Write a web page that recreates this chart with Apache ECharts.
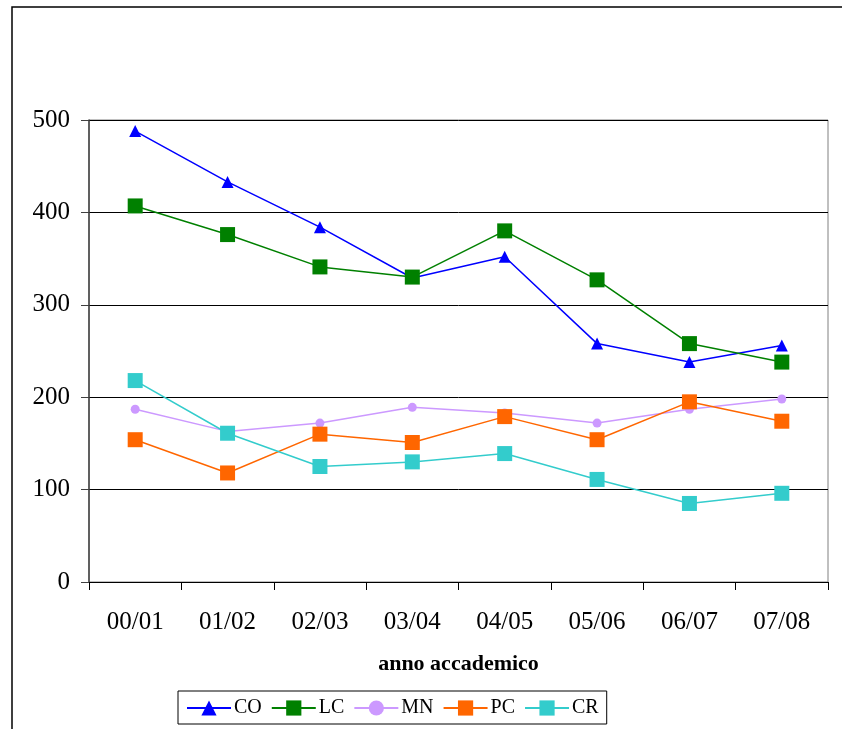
<!DOCTYPE html>
<html>
<head>
<meta charset="utf-8">
<script src="https://cdn.jsdelivr.net/npm/echarts@6/dist/echarts.min.js"></script>
<style>
  html, body { margin: 0; padding: 0; background: #fff; }
  #main { width: 842px; height: 729px; }
</style>
</head>
<body>
<div id="main"></div>
<script>
// anni accademici
const categories = ['00/01', '01/02', '02/03', '03/04', '04/05', '05/06', '06/07', '07/08'];
const yTicks = [0, 100, 200, 300, 400, 500];

// values
const CO = [488, 433, 384, 329, 352, 258, 238, 256];
const LC = [407, 376, 341, 330, 380, 327, 258, 238];
const MN = [187, 163, 172, 189, 183, 172, 187, 198];
const PC = [154, 118, 160, 151, 179, 154, 195, 174];
const CR = [218, 161, 125, 130, 139, 111, 85, 96];

const font = '"Liberation Serif", "Times New Roman", serif';

let myChart = echarts.init(document.getElementById('main'));

function serie(name, data, color, symbol, size) {
    return {
        name: name,
        type: 'line',
        data: data,
        symbol: symbol,
        symbolSize: size,
        lineStyle: { color: color, width: 1.5 },
        itemStyle: { color: color },
        animation: false
    };
}

myChart.setOption({
    backgroundColor: '#fff',
    animation: false,
    textStyle: { fontFamily: font, color: '#000' },
    graphic: [{
        // cornice esterna
        type: 'rect',
        shape: { x: 12, y: 7, width: 840, height: 740 },
        style: { fill: 'none', stroke: '#000', lineWidth: 1.5 },
        silent: true
    }],
    grid: {
        left: 89, top: 120, right: 14, bottom: 147,
        show: true, borderColor: '#808080', borderWidth: 1
    },
    legend: {
        data: ['CO', 'LC', 'MN', 'PC', 'CR'],
        left: 178, top: 691,
        width: 429,
        padding: [7, 8, 6, 8],
        borderColor: '#000',
        borderWidth: 1,
        itemWidth: 44,
        itemHeight: 19,
        itemGap: 9,
        textStyle: { fontFamily: font, fontSize: 20, color: '#000', padding: [0, 0, 0, -2] }
    },
    xAxis: {
        type: 'category',
        data: categories,
        boundaryGap: true,
        name: 'anno accademico',
        nameLocation: 'middle',
        nameGap: 71,
        nameTextStyle: { fontFamily: font, fontSize: 22, fontWeight: 'bold', color: '#000' },
        axisLine: { lineStyle: { color: '#000', width: 1 } },
        axisTick: { show: true, length: 8, interval: 0, lineStyle: { color: '#000' } },
        axisLabel: { fontFamily: font, fontSize: 25, color: '#000', margin: 28, interval: 0 },
        splitLine: { show: false }
    },
    yAxis: {
        type: 'value',
        min: yTicks[0],
        max: yTicks[yTicks.length - 1],
        interval: 100,
        axisLine: { show: true, lineStyle: { color: '#404040', width: 1.5 } },
        axisTick: { show: true, length: 8, lineStyle: { color: '#404040' } },
        axisLabel: { fontFamily: font, fontSize: 25, color: '#000', margin: 19 },
        splitLine: { show: true, lineStyle: { color: '#000', width: 1 } }
    },
    series: [
        serie('CO', CO, '#0000FF', 'triangle', 12),
        serie('LC', LC, '#008000', 'rect', 15),
        serie('MN', MN, '#CC99FF', 'circle', 9),
        serie('PC', PC, '#FF6600', 'rect', 15),
        serie('CR', CR, '#33CCCC', 'rect', 15)
    ]
});
</script>
</body>
</html>
